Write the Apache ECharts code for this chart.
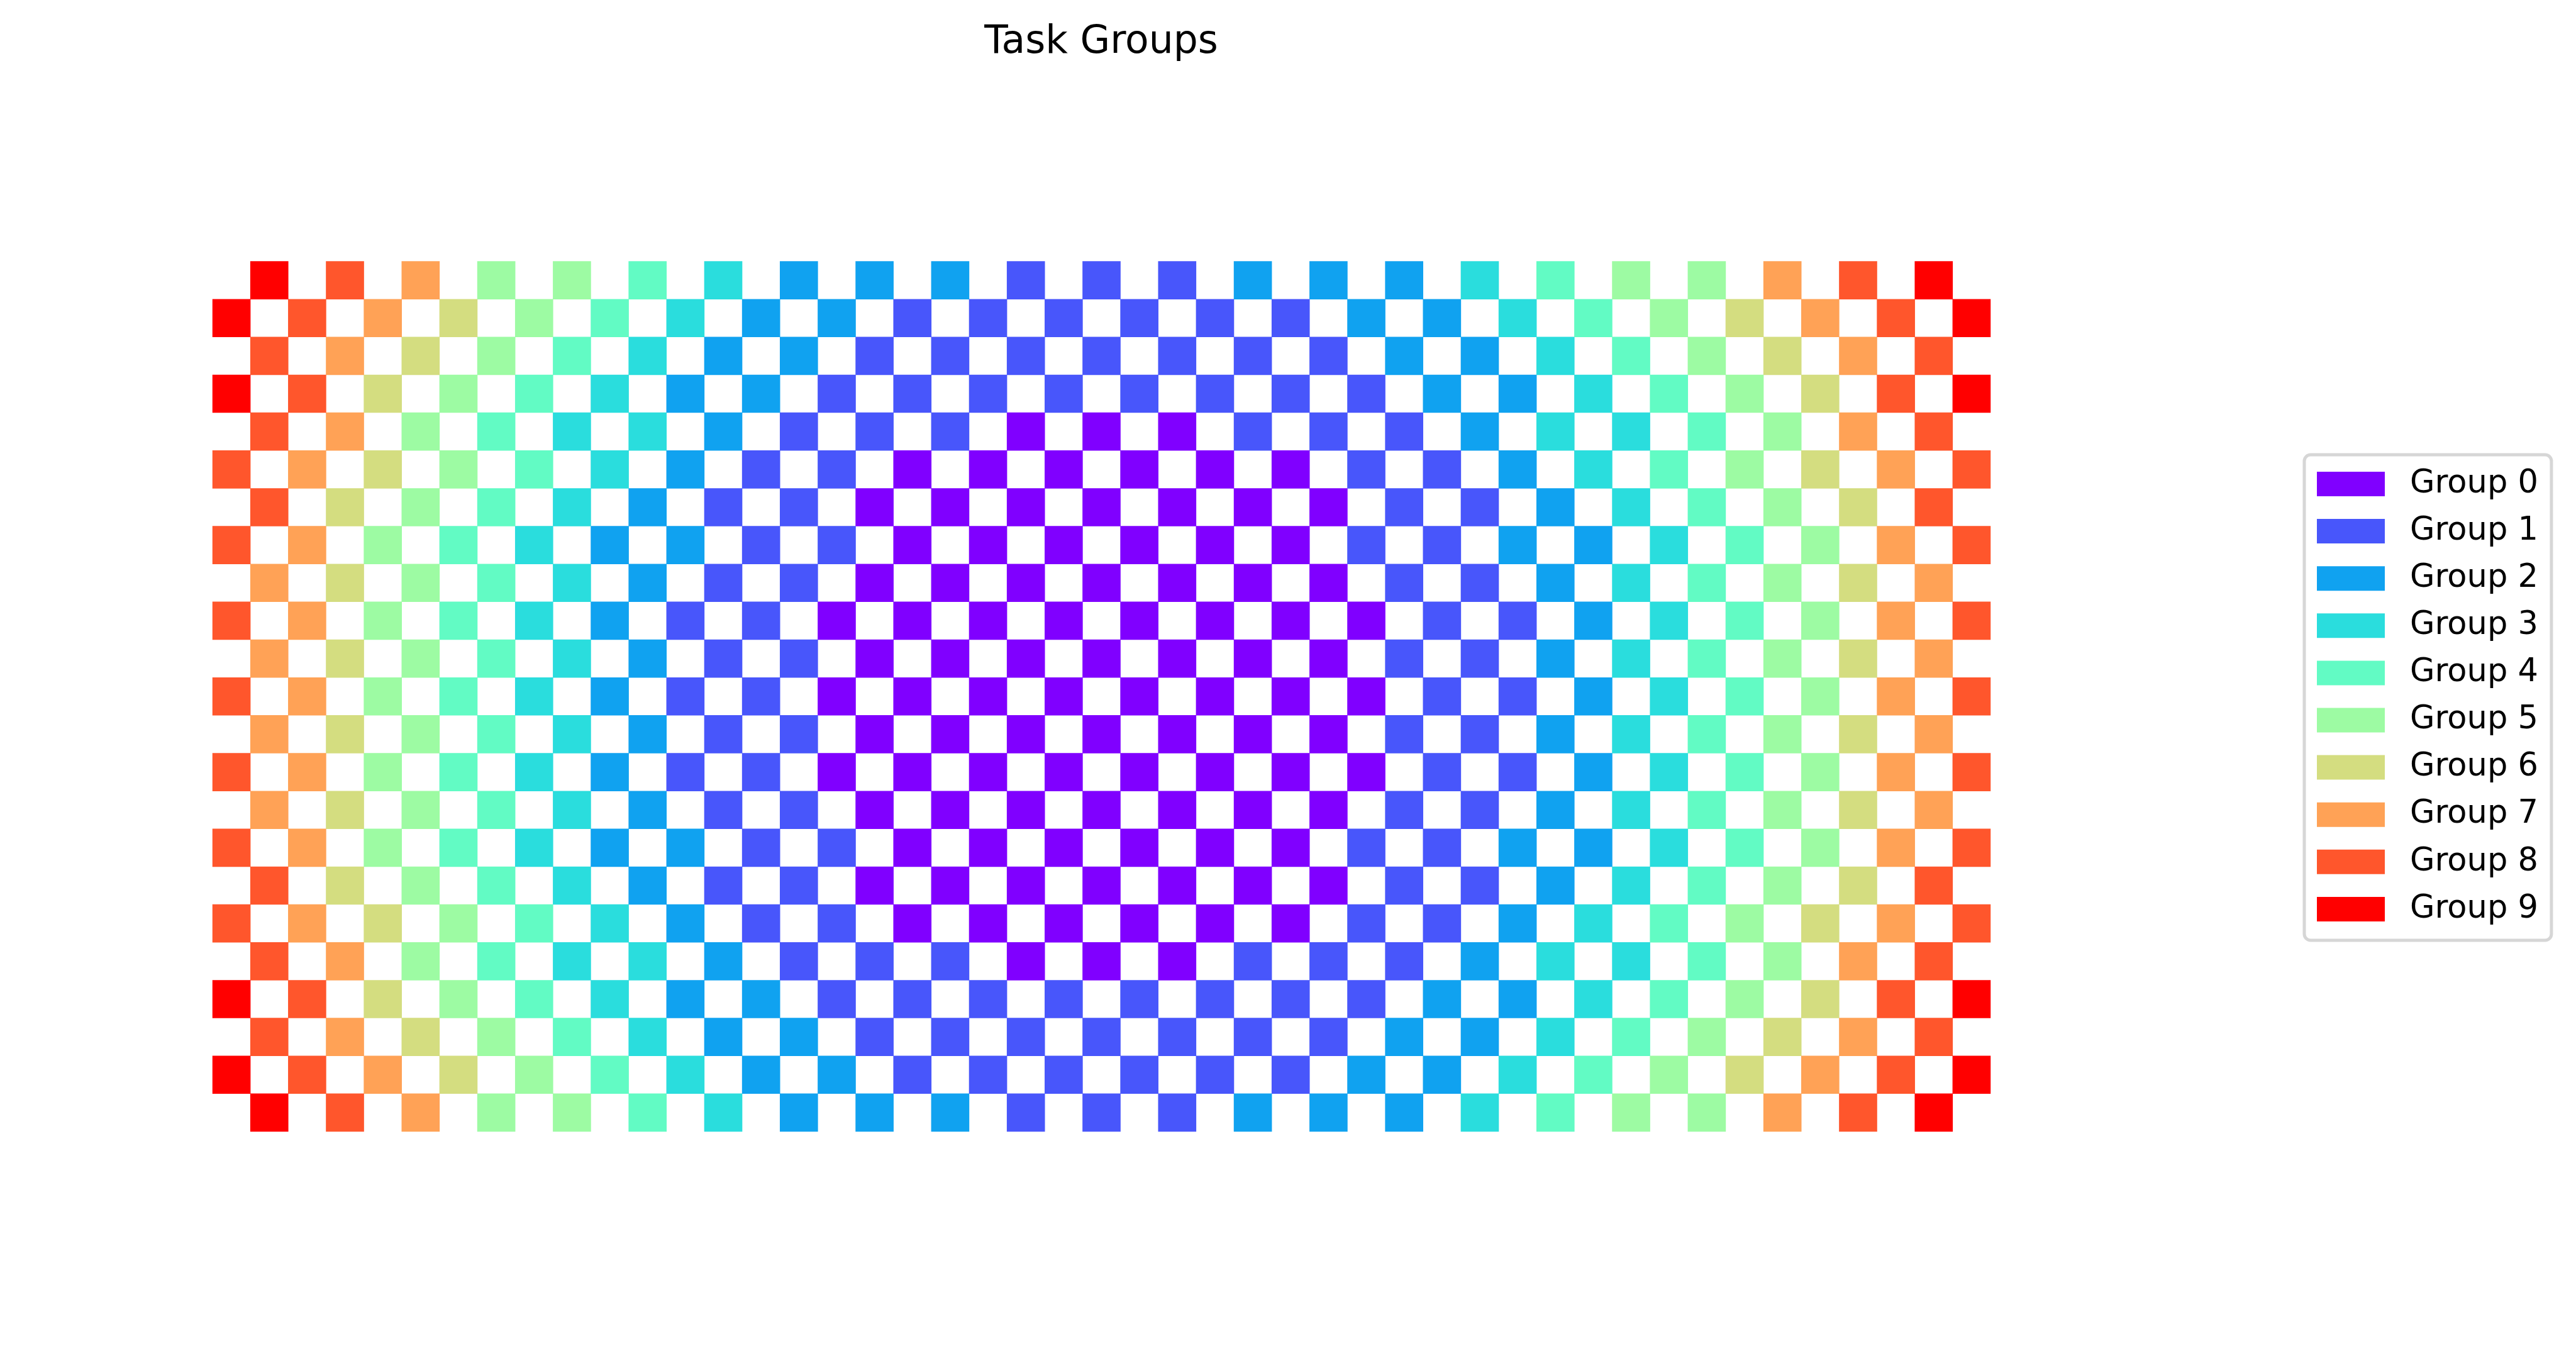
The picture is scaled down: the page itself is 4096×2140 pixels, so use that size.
<!DOCTYPE html>
<html>
<head>
<meta charset="utf-8">
<style>
  html, body { margin: 0; padding: 0; background: #ffffff; }
  #chart { width: 4096px; height: 2140px; }
</style>
<script src="https://cdn.jsdelivr.net/npm/echarts@6/dist/echarts.min.js"></script>
</head>
<body>
<div id="chart"></div>
<script>
// Grid of task groups ('.' = empty cell, digit = group index)
const gridRows = [
  ".9.8.7.5.5.4.3.2.2.2.1.1.1.2.2.2.3.4.5.5.7.8.9.",
  "9.8.7.6.5.4.3.2.2.1.1.1.1.1.1.2.2.3.4.5.6.7.8.9",
  ".8.7.6.5.4.3.2.2.1.1.1.1.1.1.1.2.2.3.4.5.6.7.8.",
  "9.8.6.5.4.3.2.2.1.1.1.1.1.1.1.1.2.2.3.4.5.6.8.9",
  ".8.7.5.4.3.3.2.1.1.1.0.0.0.1.1.1.2.3.3.4.5.7.8.",
  "8.7.6.5.4.3.2.1.1.0.0.0.0.0.0.1.1.2.3.4.5.6.7.8",
  ".8.6.5.4.3.2.1.1.0.0.0.0.0.0.0.1.1.2.3.4.5.6.8.",
  "8.7.5.4.3.2.2.1.1.0.0.0.0.0.0.1.1.2.2.3.4.5.7.8",
  ".7.6.5.4.3.2.1.1.0.0.0.0.0.0.0.1.1.2.3.4.5.6.7.",
  "8.7.5.4.3.2.1.1.0.0.0.0.0.0.0.0.1.1.2.3.4.5.7.8",
  ".7.6.5.4.3.2.1.1.0.0.0.0.0.0.0.1.1.2.3.4.5.6.7.",
  "8.7.5.4.3.2.1.1.0.0.0.0.0.0.0.0.1.1.2.3.4.5.7.8",
  ".7.6.5.4.3.2.1.1.0.0.0.0.0.0.0.1.1.2.3.4.5.6.7.",
  "8.7.5.4.3.2.1.1.0.0.0.0.0.0.0.0.1.1.2.3.4.5.7.8",
  ".7.6.5.4.3.2.1.1.0.0.0.0.0.0.0.1.1.2.3.4.5.6.7.",
  "8.7.5.4.3.2.2.1.1.0.0.0.0.0.0.1.1.2.2.3.4.5.7.8",
  ".8.6.5.4.3.2.1.1.0.0.0.0.0.0.0.1.1.2.3.4.5.6.8.",
  "8.7.6.5.4.3.2.1.1.0.0.0.0.0.0.1.1.2.3.4.5.6.7.8",
  ".8.7.5.4.3.3.2.1.1.1.0.0.0.1.1.1.2.3.3.4.5.7.8.",
  "9.8.6.5.4.3.2.2.1.1.1.1.1.1.1.1.2.2.3.4.5.6.8.9",
  ".8.7.6.5.4.3.2.2.1.1.1.1.1.1.1.2.2.3.4.5.6.7.8.",
  "9.8.7.6.5.4.3.2.2.1.1.1.1.1.1.2.2.3.4.5.6.7.8.9",
  ".9.8.7.5.5.4.3.2.2.2.1.1.1.2.2.2.3.4.5.5.7.8.9."
];
const groupNames = ["Group 0","Group 1","Group 2","Group 3","Group 4","Group 5","Group 6","Group 7","Group 8","Group 9"];
const groupColors = ["#8000ff","#4856fb","#10a2f0","#2adddd","#62fbc4","#9dfba3","#d4dd80","#ffa256","#ff562c","#ff0000"];

const nCols = gridRows[0].length;
const nRows = gridRows.length;
const xCats = Array.from({length: nCols}, (_, i) => String(i));
const yCats = Array.from({length: nRows}, (_, i) => String(i));

const seriesData = groupNames.map(() => []);
gridRows.forEach((row, r) => {
  for (let c = 0; c < row.length; c++) {
    const ch = row[c];
    if (ch !== '.') seriesData[+ch].push([c, r, +ch]);
  }
});

const FONT = "DejaVu Sans";
const chart = echarts.init(document.getElementById('chart'), null, {renderer: 'canvas'});
chart.setOption({
  animation: false,
  backgroundColor: '#ffffff',
  graphic: [{
    type: 'text', x: 1751, y: 68,
    style: { text: 'Task Groups', fontFamily: FONT, fontSize: 61.5, fill: '#000000', align: 'center', verticalAlign: 'middle' }
  }],
  grid: { left: 338, top: 415.5, width: 2827, height: 1383.5, containLabel: false },
  xAxis: { type: 'category', data: xCats, axisLine: {show: false}, axisTick: {show: false}, axisLabel: {show: false}, splitLine: {show: false} },
  yAxis: { type: 'category', data: yCats, inverse: true, axisLine: {show: false}, axisTick: {show: false}, axisLabel: {show: false}, splitLine: {show: false} },
  legend: {
    orient: 'vertical', left: 3664, top: 723,
    padding: [21, 21, 24, 20],
    itemWidth: 108, itemHeight: 39, itemGap: 24.1,
    icon: 'rect', selectedMode: false,
    borderColor: '#d6d6d6', borderWidth: 5, borderRadius: 10, backgroundColor: '#ffffff',
    textStyle: { fontFamily: FONT, fontSize: 51, color: '#000000', lineHeight: 39, padding: [0, 0, 0, 35] },
    data: groupNames
  },
  series: groupNames.map((name, k) => ({
    type: 'heatmap', name: name, data: seriesData[k],
    itemStyle: { color: groupColors[k] },
    emphasis: { disabled: true },
    label: { show: false }
  }))
});
</script>
</body>
</html>
